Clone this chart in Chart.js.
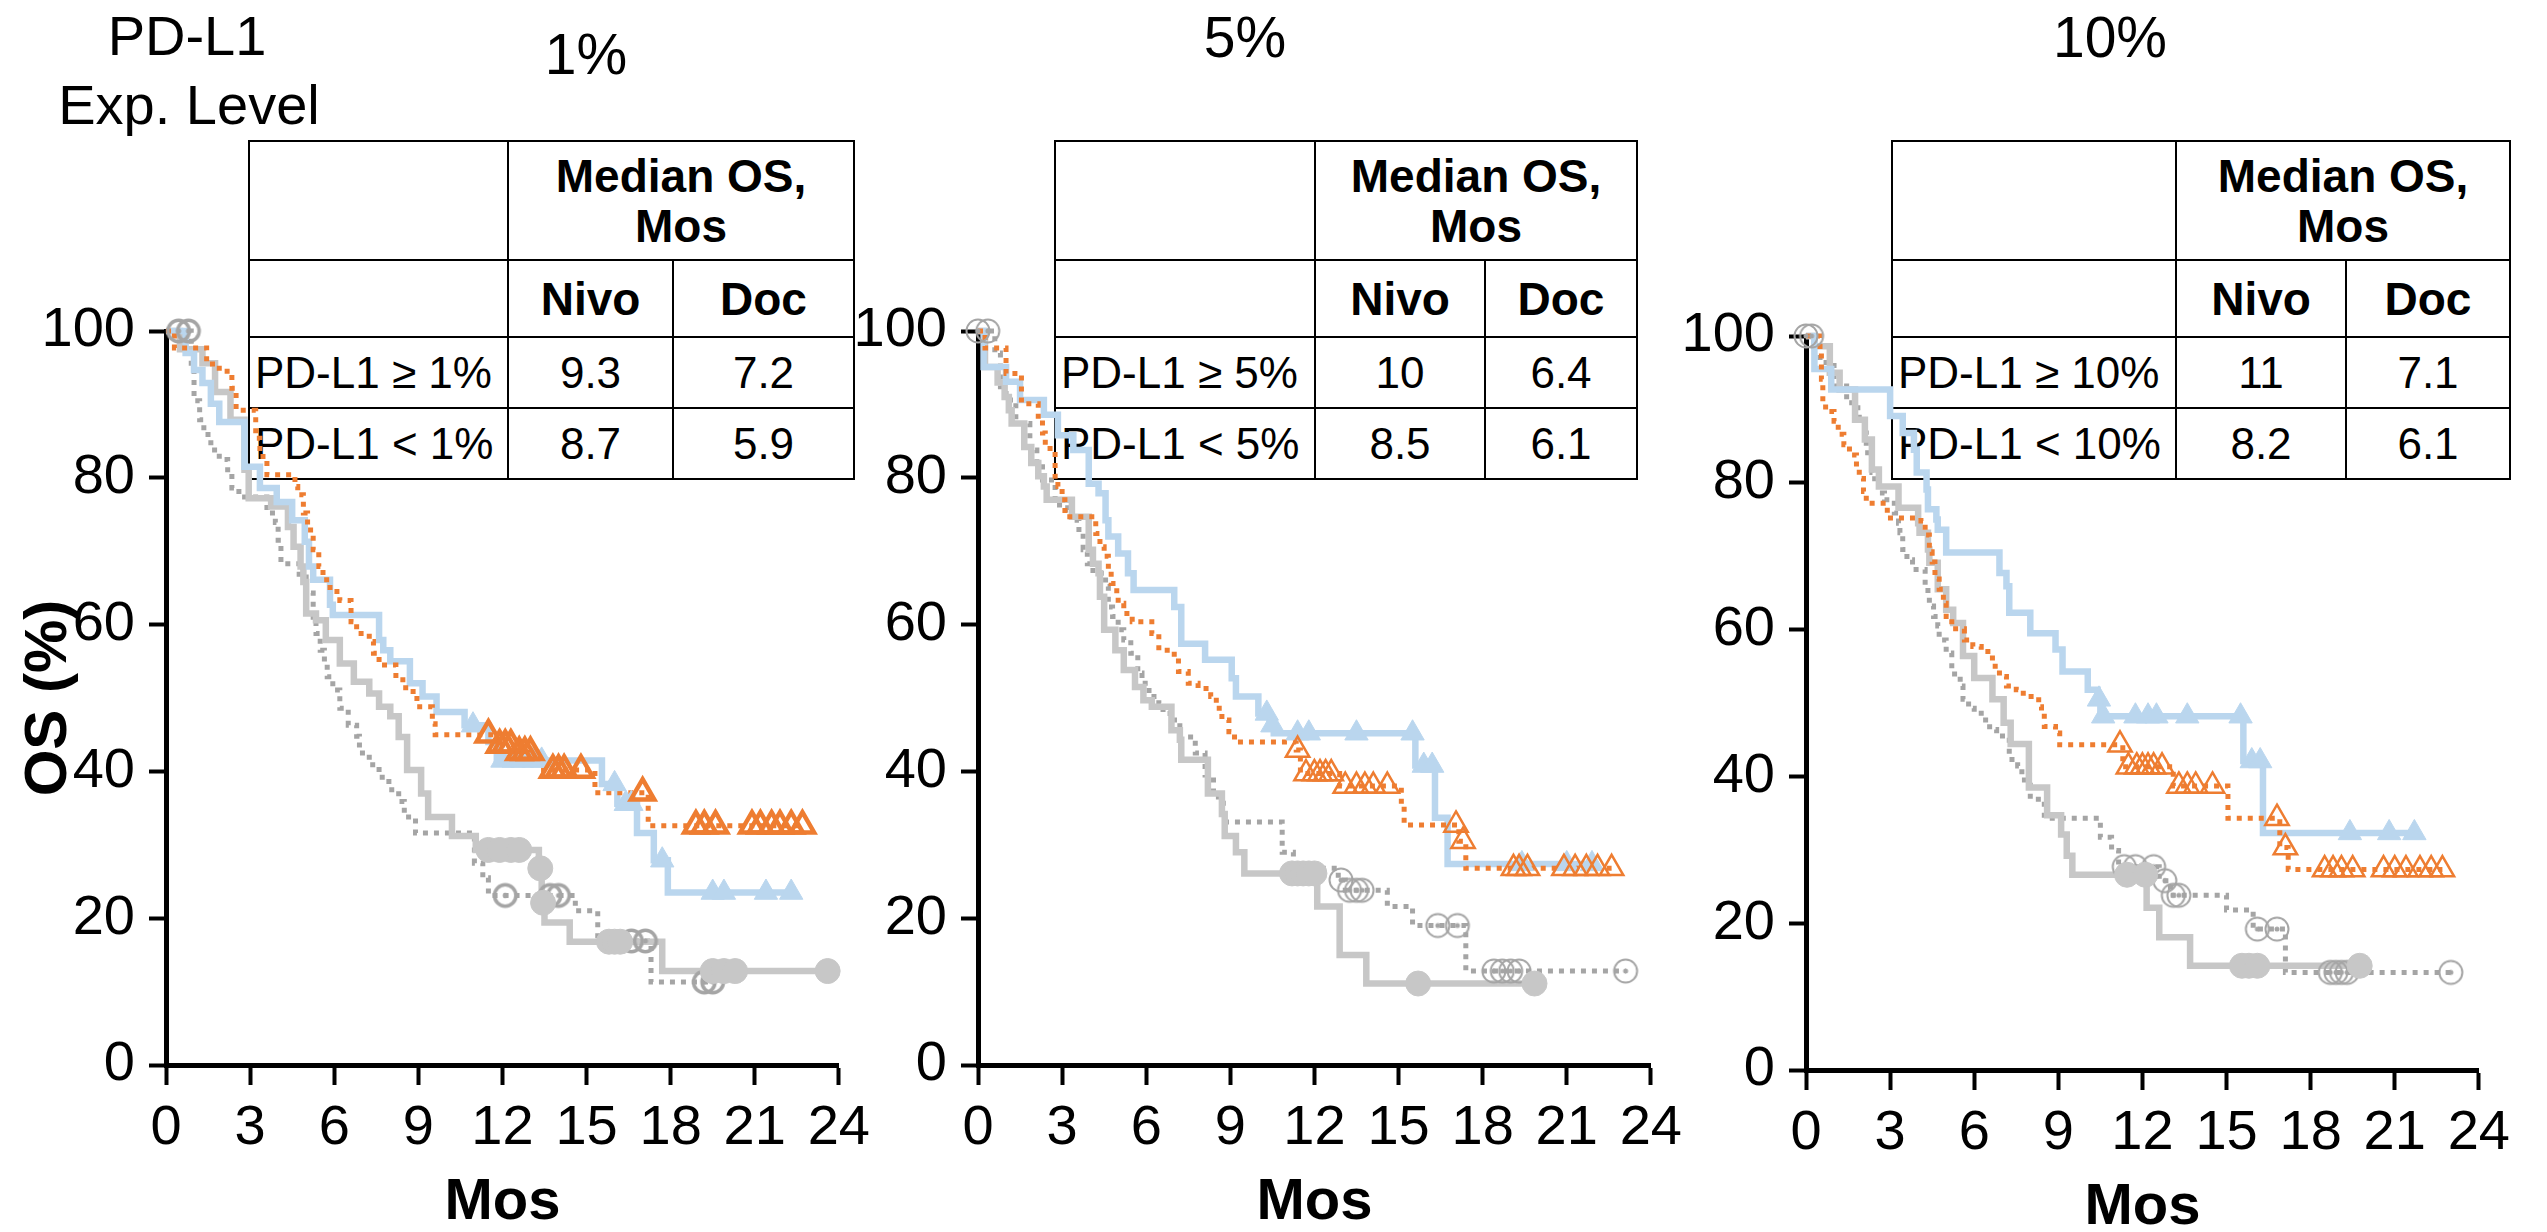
<!DOCTYPE html>
<html>
<head>
<meta charset="utf-8">
<title>OS by PD-L1 expression level</title>
<script src="https://cdn.jsdelivr.net/npm/chart.js@4.4.1/dist/chart.umd.min.js"></script>
<style>
  body { margin: 0; width: 2547px; height: 1232px; background: #fff; overflow: hidden; position: relative;
         font-family: "Liberation Sans", Arial, Helvetica, sans-serif; color: #000; }
  canvas { position: absolute; }
  .lab { position: absolute; line-height: 1; white-space: nowrap; transform: translateX(-50%); }
  table.os { position: absolute; border-collapse: collapse; table-layout: fixed; font-size: 44px; }
  table.os td, table.os th { border: 2.5px solid #000; padding: 0; text-align: center; }
  table.os th { font-weight: bold; font-size: 46px; line-height: 50px; }
  table.os td.lbl { text-align: left; padding-left: 5px; white-space: nowrap; }
</style>
</head>
<body>
<script>
// ---- axis ticks ----
const monthTicks = [0, 3, 6, 9, 12, 15, 18, 21, 24];
const osTicks = [0, 20, 40, 60, 80, 100];

// ---- PD-L1 cutoffs and median OS (months) ----
const cutoffs = ['1%', '5%', '10%'];
const nivoHiMedian = [9.3, 10, 11];
const docHiMedian = [7.2, 6.4, 7.1];
const nivoLoMedian = [8.7, 8.5, 8.2];
const docLoMedian = [5.9, 6.1, 6.1];

// ---- KM curves: event times (mos), OS % after each event, censor times ----
// PD-L1 1%
const nivoHi1T = [0, 0.7, 1.0, 1.3, 1.6, 1.9, 2.8, 3.35, 3.95, 4.5, 4.95, 5.1, 5.25, 5.85, 5.95, 7.6, 7.75, 8.0, 8.7, 9.15, 9.65, 10.65, 11.5, 11.8, 15.55, 16.1, 16.8, 17.4, 17.9, 22.3];
const nivoHi1S = [100, 97.0, 94.7, 92.9, 90.1, 87.6, 81.5, 78.6, 76.7, 74.2, 71.3, 67.9, 66.1, 62.7, 61.3, 57.9, 56.5, 55.0, 52.0, 50.2, 48.1, 46.3, 44.0, 41.5, 38.3, 35.6, 31.6, 27.9, 23.5, 23.5];
const nivoHi1Cens = [10.95, 12.0, 12.4, 12.7, 13.1, 13.4, 16.0, 16.4, 16.6, 17.7, 19.5, 19.9, 21.4, 22.3];

const docHi1T = [0, 0.3, 1.45, 1.9, 2.35, 2.5, 3.2, 3.35, 3.6, 4.6, 4.7, 4.9, 5.05, 5.25, 5.45, 5.6, 5.85, 6.2, 6.6, 6.8, 7.25, 7.4, 7.6, 8.2, 8.55, 8.95, 9.5, 9.6, 11.75, 12.4, 13.3, 15.3, 17.2, 22.7];
const docHi1S = [100, 97.7, 95.5, 94.5, 92.2, 89.2, 85.4, 82.9, 80.4, 78.8, 77.7, 75.2, 72.9, 70.2, 67.9, 66.1, 64.5, 63.3, 60.4, 58.8, 57.7, 56.1, 54.5, 52.5, 50.9, 48.8, 46.5, 45.0, 43.6, 42.6, 40.2, 37.1, 32.6, 32.6];
const docHi1Cens = [11.5, 11.9, 12.1, 12.3, 12.6, 12.8, 13.0, 13.8, 14.0, 14.2, 14.8, 17.0, 18.9, 19.2, 19.6, 20.9, 21.2, 21.6, 21.9, 22.3, 22.7];

const nivoLo1T = [0, 0.5, 1.3, 1.75, 2.3, 2.8, 2.95, 3.75, 4.35, 4.55, 4.8, 4.9, 5.0, 5.35, 5.7, 6.2, 6.7, 7.25, 7.6, 8.0, 8.3, 8.6, 9.1, 9.35, 10.2, 11.05, 13.3, 13.4, 13.5, 14.4, 17.7, 23.6];
const nivoLo1S = [100, 97.5, 95.6, 91.7, 87.9, 81.1, 77.2, 76.1, 73.3, 70.6, 67.9, 65.8, 61.5, 60.6, 57.9, 54.7, 52.2, 50.6, 48.8, 47.5, 44.7, 40.2, 37.0, 33.8, 31.2, 29.3, 26.8, 22.1, 19.4, 16.8, 12.8, 12.8];
const nivoLo1Cens = [11.5, 11.9, 12.3, 12.6, 13.35, 13.45, 15.8, 16.0, 16.2, 19.5, 19.9, 20.3, 23.6];

const docLo1T = [0, 0.9, 1.0, 1.2, 1.35, 1.6, 1.9, 2.2, 2.35, 2.6, 3.6, 3.9, 4.0, 4.1, 4.75, 5.0, 5.25, 5.35, 5.5, 5.65, 5.75, 5.95, 6.2, 6.5, 6.8, 6.9, 7.25, 7.6, 7.95, 8.3, 8.5, 8.9, 11.0, 11.3, 11.5, 14.6, 15.4, 17.3, 19.6];
const docLo1S = [100, 94.9, 90.5, 87.9, 85.9, 83.8, 82.5, 80.6, 78.6, 77.4, 75.2, 73.9, 71.5, 68.3, 66.5, 64.3, 61.0, 58.8, 56.5, 54.7, 52.9, 51.1, 48.6, 46.3, 44.8, 42.5, 40.9, 39.2, 37.5, 35.9, 33.8, 31.6, 27.5, 25.5, 23.1, 21.0, 16.9, 11.3, 11.3];
const docLo1Cens = [0.45, 0.8, 12.1, 13.7, 14.0, 16.6, 17.1, 19.2, 19.5];

// PD-L1 5%
const nivoHi5T = [0, 0.2, 1.0, 1.5, 2.35, 2.85, 3.4, 3.95, 4.3, 4.55, 4.65, 5.0, 5.35, 5.55, 7.0, 7.25, 8.1, 9.05, 9.2, 10.0, 10.4, 10.55, 15.6, 16.3, 16.75, 21.9];
const nivoHi5S = [100, 95.1, 93.1, 90.6, 88.6, 85.8, 83.8, 79.2, 77.9, 74.2, 72.0, 69.7, 67.0, 64.7, 62.4, 57.4, 55.2, 52.7, 50.2, 47.9, 46.3, 45.2, 40.8, 33.7, 27.4, 27.4];
const nivoHi5Cens = [10.3, 10.5, 11.4, 11.8, 13.5, 15.5, 15.9, 16.2, 19.4, 21.0, 21.9];

const docHi5T = [0, 0.25, 1.0, 1.55, 2.15, 2.3, 2.4, 2.75, 2.85, 3.0, 3.1, 4.2, 4.35, 4.5, 4.65, 4.75, 4.95, 5.0, 5.2, 5.5, 6.2, 6.45, 7.0, 7.15, 7.5, 7.85, 8.3, 8.5, 8.7, 8.95, 9.15, 11.35, 11.5, 12.9, 15.1, 15.2, 17.15, 17.4, 22.6];
const docHi5S = [100, 97.7, 94.2, 90.1, 87.9, 86.1, 84.0, 80.2, 78.8, 77.0, 74.7, 72.4, 70.6, 69.3, 67.4, 65.6, 63.8, 62.9, 61.5, 60.4, 58.8, 56.5, 55.4, 53.6, 52.0, 51.3, 50.2, 48.6, 47.0, 45.4, 44.0, 42.9, 39.7, 38.0, 35.3, 32.7, 30.5, 26.8, 26.8];
const docHi5Cens = [11.4, 11.7, 12.0, 12.2, 12.4, 12.6, 13.1, 13.5, 13.8, 14.1, 14.6, 17.05, 17.3, 19.1, 19.3, 19.6, 20.9, 21.3, 21.7, 22.1, 22.6];

const nivoLo5T = [0, 0.25, 0.7, 0.95, 1.1, 1.2, 1.65, 1.9, 2.15, 2.35, 2.45, 3.35, 3.95, 4.1, 4.3, 4.35, 4.5, 4.9, 5.2, 5.6, 5.9, 6.2, 6.9, 7.2, 7.25, 8.2, 8.7, 8.8, 9.2, 9.5, 12.1, 12.9, 13.85, 19.85];
const nivoLo5S = [100, 95.1, 93.0, 91.0, 89.2, 87.4, 84.2, 82.0, 80.2, 78.8, 77.0, 74.7, 70.2, 68.3, 67.0, 63.8, 59.3, 56.5, 53.8, 51.5, 49.7, 48.8, 45.6, 44.3, 41.6, 37.0, 34.2, 31.2, 29.0, 26.1, 21.6, 15.0, 11.1, 11.1];
const nivoLo5Cens = [11.2, 11.4, 11.6, 11.8, 12.0, 15.7, 19.85];

const docLo5T = [0, 0.6, 0.8, 1.0, 1.35, 1.85, 2.1, 2.3, 2.75, 3.2, 3.35, 3.6, 3.75, 3.9, 4.1, 4.55, 4.65, 4.8, 5.0, 5.2, 5.45, 5.7, 5.85, 6.1, 6.45, 6.6, 6.9, 7.2, 7.75, 8.1, 8.4, 8.75, 10.85, 11.25, 12.85, 13.1, 14.6, 15.5, 17.4, 23.1];
const docLo5S = [100, 97.0, 92.4, 90.6, 87.4, 83.8, 81.5, 79.7, 76.3, 75.6, 74.2, 72.4, 70.2, 68.3, 67.0, 65.2, 62.4, 61.1, 59.3, 57.9, 56.1, 53.4, 52.0, 50.2, 49.3, 47.9, 47.0, 44.7, 42.5, 39.5, 36.5, 33.1, 29.0, 26.8, 25.2, 23.8, 21.6, 19.0, 12.8, 12.8];
const docLo5Cens = [0.0, 0.35, 12.95, 13.25, 13.5, 13.7, 16.4, 17.1, 18.4, 18.7, 19.0, 19.3, 23.1];

// PD-L1 10%
const nivoHi10T = [0, 0.3, 0.9, 3.0, 3.45, 3.85, 3.95, 4.3, 4.35, 4.65, 4.7, 5.0, 6.9, 7.15, 7.25, 8.0, 8.9, 9.15, 10.05, 10.4, 10.5, 15.6, 16.3, 21.7];
const nivoHi10S = [100, 95.5, 92.7, 89.1, 86.8, 84.5, 81.4, 79.1, 76.4, 75.0, 73.6, 70.5, 67.7, 65.9, 62.3, 59.5, 57.3, 54.3, 51.8, 50.5, 48.2, 42.1, 32.3, 32.3];
const nivoHi10Cens = [10.45, 10.6, 11.75, 12.2, 12.5, 13.6, 15.5, 15.9, 16.2, 19.4, 20.8, 21.7];

const docHi10T = [0, 0.5, 0.55, 0.6, 0.7, 1.0, 1.15, 1.35, 1.55, 1.8, 1.9, 2.05, 2.15, 2.9, 4.1, 4.25, 4.4, 4.5, 4.6, 4.75, 4.9, 5.0, 5.2, 5.65, 5.95, 6.25, 6.65, 6.9, 7.15, 7.5, 7.75, 8.3, 8.4, 8.5, 8.9, 9.05, 11.3, 13.1, 15.05, 16.9, 17.2, 22.7];
const docHi10S = [100, 97.7, 94.1, 91.1, 89.7, 88.4, 86.6, 85.2, 83.8, 82.0, 80.6, 78.8, 77.2, 75.2, 74.8, 72.9, 70.6, 69.2, 66.9, 65.5, 63.6, 61.8, 60.1, 58.6, 57.7, 57.0, 55.0, 53.6, 52.3, 51.8, 50.9, 49.5, 48.2, 46.8, 45.9, 44.3, 41.3, 38.7, 34.3, 30.3, 27.3, 27.3];
const docHi10Cens = [11.2, 11.5, 11.8, 12.0, 12.2, 12.4, 12.7, 13.3, 13.6, 13.9, 14.5, 16.8, 17.1, 18.5, 18.8, 19.1, 19.5, 20.6, 21.0, 21.4, 21.9, 22.3, 22.7];

const nivoLo10T = [0, 0.3, 0.85, 1.2, 1.75, 2.1, 2.35, 2.6, 3.3, 4.0, 4.05, 4.35, 4.4, 4.7, 5.0, 5.25, 5.6, 6.0, 6.65, 7.05, 7.3, 7.95, 8.6, 9.1, 9.3, 9.5, 12.15, 12.6, 13.7, 19.75];
const nivoLo10S = [100, 98.6, 95.0, 92.7, 88.6, 85.9, 81.8, 79.5, 76.6, 74.5, 73.2, 70.9, 69.1, 65.5, 62.7, 60.9, 56.4, 53.4, 50.5, 47.3, 44.4, 38.5, 34.7, 32.1, 29.2, 26.6, 22.1, 18.1, 14.2, 14.2];
const nivoLo10Cens = [11.45, 12.1, 15.55, 15.8, 16.1, 19.75];

const docLo10T = [0, 0.3, 0.5, 1.0, 1.45, 1.85, 1.9, 2.1, 2.15, 2.2, 2.35, 2.45, 2.6, 2.8, 3.15, 3.3, 3.35, 3.45, 3.6, 3.8, 4.25, 4.35, 4.4, 4.55, 4.7, 4.75, 5.0, 5.2, 5.3, 5.5, 5.6, 5.8, 6.0, 6.25, 6.55, 6.8, 7.25, 7.55, 7.7, 8.0, 8.5, 10.5, 10.9, 11.15, 12.6, 13.0, 15.0, 15.95, 17.1, 23.0];
const docLo10S = [100, 97.7, 96.4, 93.2, 90.9, 89.5, 88.6, 86.8, 85.0, 83.2, 81.4, 80.0, 78.6, 77.7, 75.9, 74.5, 73.2, 70.9, 69.5, 68.2, 65.9, 64.5, 63.2, 61.8, 60.5, 58.6, 56.8, 54.5, 53.6, 52.3, 50.5, 49.3, 48.6, 47.7, 46.4, 45.5, 42.3, 41.4, 39.5, 36.9, 34.3, 31.7, 29.9, 27.7, 25.8, 23.8, 21.8, 19.2, 13.3, 13.3];
const docLo10Cens = [0.0, 0.2, 11.35, 11.75, 12.4, 12.8, 13.1, 13.3, 16.1, 16.8, 18.7, 18.9, 19.1, 19.3, 23.0];

// ---- layout ----
const panels = [
  { left: 0,    top: 280, yTitle: true,  markStroke: 4.5, ringStroke: 3.5,
    curves: { nivoHi: [nivoHi1T, nivoHi1S, nivoHi1Cens], docHi: [docHi1T, docHi1S, docHi1Cens],
              nivoLo: [nivoLo1T, nivoLo1S, nivoLo1Cens], docLo: [docLo1T, docLo1S, docLo1Cens] } },
  { left: 812,  top: 280, yTitle: false, markStroke: 2.5, ringStroke: 2,
    curves: { nivoHi: [nivoHi5T, nivoHi5S, nivoHi5Cens], docHi: [docHi5T, docHi5S, docHi5Cens],
              nivoLo: [nivoLo5T, nivoLo5S, nivoLo5Cens], docLo: [docLo5T, docLo5S, docLo5Cens] } },
  { left: 1640, top: 285, yTitle: false, markStroke: 2.5, ringStroke: 2,
    curves: { nivoHi: [nivoHi10T, nivoHi10S, nivoHi10Cens], docHi: [docHi10T, docHi10S, docHi10Cens],
              nivoLo: [nivoLo10T, nivoLo10S, nivoLo10Cens], docLo: [docLo10T, docLo10S, docLo10Cens] } },
];
const CANVAS_W = 880, CANVAS_H = 952, Y_AXIS_W = 166, X_AXIS_H = 167;

const tableBoxes = [
  { left: 248,  cols: [259, 165, 181] },
  { left: 1054, cols: [260, 170, 152] },
  { left: 1891, cols: [284, 170, 164] },
];
const TABLE_TOP = 140;
const rowHeights = [119, 77, 71, 71];

const headings = [
  { text: 'PD-L1', x: 187, y: 35, size: 56 },
  { text: 'Exp. Level', x: 189, y: 104, size: 56 },
  { text: cutoffs[0], x: 586, y: 54, size: 57 },
  { text: cutoffs[1], x: 1245, y: 37, size: 57 },
  { text: cutoffs[2], x: 2110, y: 37, size: 57 },
];

const STYLE = {
  nivoHi: { color: '#bad6ee', dash: [], width: 6.5, marker: 'triangle', fill: true, order: 5, mOrder: 1 },
  docHi:  { color: '#ee7d31', dash: [5, 6], width: 5, marker: 'triangle', fill: false, order: 4, mOrder: 0 },
  nivoLo: { color: '#c7c7c7', dash: [], width: 6.5, marker: 'circle', fill: true, order: 6, mOrder: 2 },
  docLo:  { color: '#a5a5a5', dash: [5, 6], width: 5, marker: 'ring', fill: false, order: 7, mOrder: 3 },
};

Chart.defaults.font.family = '"Liberation Sans", Arial, Helvetica, sans-serif';
Chart.defaults.color = '#000';

// survival value of a step curve at time c
function survAt(T, S, c) {
  let v = S[0];
  for (let i = 0; i < T.length; i++) if (T[i] <= c) v = S[i];
  return v;
}

// open circle with a centre dot, used as censor mark
function ringDot(color, stroke) {
  const c = document.createElement('canvas');
  c.width = c.height = 30;
  const g = c.getContext('2d');
  g.strokeStyle = color; g.lineWidth = stroke;
  g.beginPath(); g.arc(15, 15, 12.5 - stroke / 2, 0, Math.PI * 2); g.stroke();
  g.fillStyle = color;
  g.beginPath(); g.arc(15, 15, 2.5, 0, Math.PI * 2); g.fill();
  return c;
}

function kmDatasets(p) {
  const out = [];
  Object.keys(STYLE).forEach(key => {
    const st = STYLE[key];
    const [T, S, C] = p.curves[key];
    out.push({
      data: T.map((t, i) => ({ x: t, y: S[i] })),
      showLine: true, stepped: 'before',
      borderColor: st.color, borderWidth: st.width, borderDash: st.dash, borderCapStyle: 'butt',
      pointRadius: 0, pointHoverRadius: 0, order: st.order, clip: false
    });
    const r = st.marker === 'triangle' ? 13.5 : 12.5;
    out.push({
      data: C.map(c => ({ x: c, y: survAt(T, S, c) })),
      showLine: false,
      pointStyle: st.marker === 'ring' ? ringDot(st.color, p.ringStroke) : st.marker,
      pointRadius: r, pointHoverRadius: r,
      pointBackgroundColor: st.fill ? st.color : 'rgba(255,255,255,0)',
      pointBorderColor: st.color,
      pointBorderWidth: st.fill ? 1 : p.markStroke,
      order: st.mOrder, clip: false
    });
  });
  return out;
}

function label(h) {
  const d = document.createElement('div');
  d.className = 'lab';
  d.textContent = h.text;
  d.style.fontSize = h.size + 'px';
  d.style.left = h.x + 'px';
  d.style.top = Math.round(h.y - 0.49 * h.size) + 'px';
  document.body.appendChild(d);
}

function medianTable(i) {
  const box = tableBoxes[i];
  const t = document.createElement('table');
  t.className = 'os';
  t.style.left = box.left + 'px';
  t.style.top = TABLE_TOP + 'px';
  t.style.width = box.cols.reduce((a, b) => a + b, 0) + 'px';
  const cut = cutoffs[i];
  t.innerHTML =
    '<colgroup>' + box.cols.map(w => `<col style="width:${w}px">`).join('') + '</colgroup>' +
    `<tr style="height:${rowHeights[0]}px"><td></td><th colspan="2">Median OS,<br>Mos</th></tr>` +
    `<tr style="height:${rowHeights[1]}px"><td></td><th>Nivo</th><th>Doc</th></tr>` +
    `<tr style="height:${rowHeights[2]}px"><td class="lbl">PD-L1 \u2265 ${cut}</td><td>${nivoHiMedian[i]}</td><td>${docHiMedian[i]}</td></tr>` +
    `<tr style="height:${rowHeights[3]}px"><td class="lbl">PD-L1 &lt; ${cut}</td><td>${nivoLoMedian[i]}</td><td>${docLoMedian[i]}</td></tr>`;
  document.body.appendChild(t);
}

headings.forEach(label);
cutoffs.forEach((_, i) => medianTable(i));

panels.forEach(p => {
  const cv = document.createElement('canvas');
  cv.width = CANVAS_W; cv.height = CANVAS_H;
  cv.style.left = p.left + 'px'; cv.style.top = p.top + 'px';
  document.body.appendChild(cv);

  const axisBorder = { display: true, color: '#000', width: 5 };
  new Chart(cv, {
    type: 'scatter',
    data: { datasets: kmDatasets(p) },
    options: {
      responsive: false, animation: false, devicePixelRatio: 1,
      layout: { padding: { top: 51, right: 40, left: 0, bottom: 0 } },
      plugins: { legend: { display: false }, tooltip: { enabled: false } },
      events: [],
      scales: {
        x: {
          type: 'linear', min: 0, max: 24,
          afterBuildTicks: s => { s.ticks = monthTicks.map(v => ({ value: v })); },
          afterFit: s => { s.height = X_AXIS_H; },
          border: axisBorder,
          grid: { drawOnChartArea: false, drawTicks: true, tickLength: 20, tickWidth: 4, tickColor: '#000' },
          ticks: { font: { size: 56 }, padding: 10, autoSkip: false, maxRotation: 0, minRotation: 0, color: '#000' },
          title: { display: true, text: 'Mos', font: { size: 58, weight: 'bold', lineHeight: 1 },
                   padding: { top: 0, bottom: 0 }, color: '#000' }
        },
        y: {
          type: 'linear', min: 0, max: 100,
          afterBuildTicks: s => { s.ticks = osTicks.map(v => ({ value: v })); },
          afterFit: s => { s.width = Y_AXIS_W; },
          border: axisBorder,
          grid: { drawOnChartArea: false, drawTicks: true, tickLength: 17, tickWidth: 4, tickColor: '#000' },
          ticks: { font: { size: 56 }, padding: 14, color: '#000' },
          title: { display: p.yTitle, text: 'OS (%)', font: { size: 60, weight: 'bold', lineHeight: 1 },
                   padding: { top: 19, bottom: 0 }, color: '#000' }
        }
      }
    }
  });
});
</script>
</body>
</html>
